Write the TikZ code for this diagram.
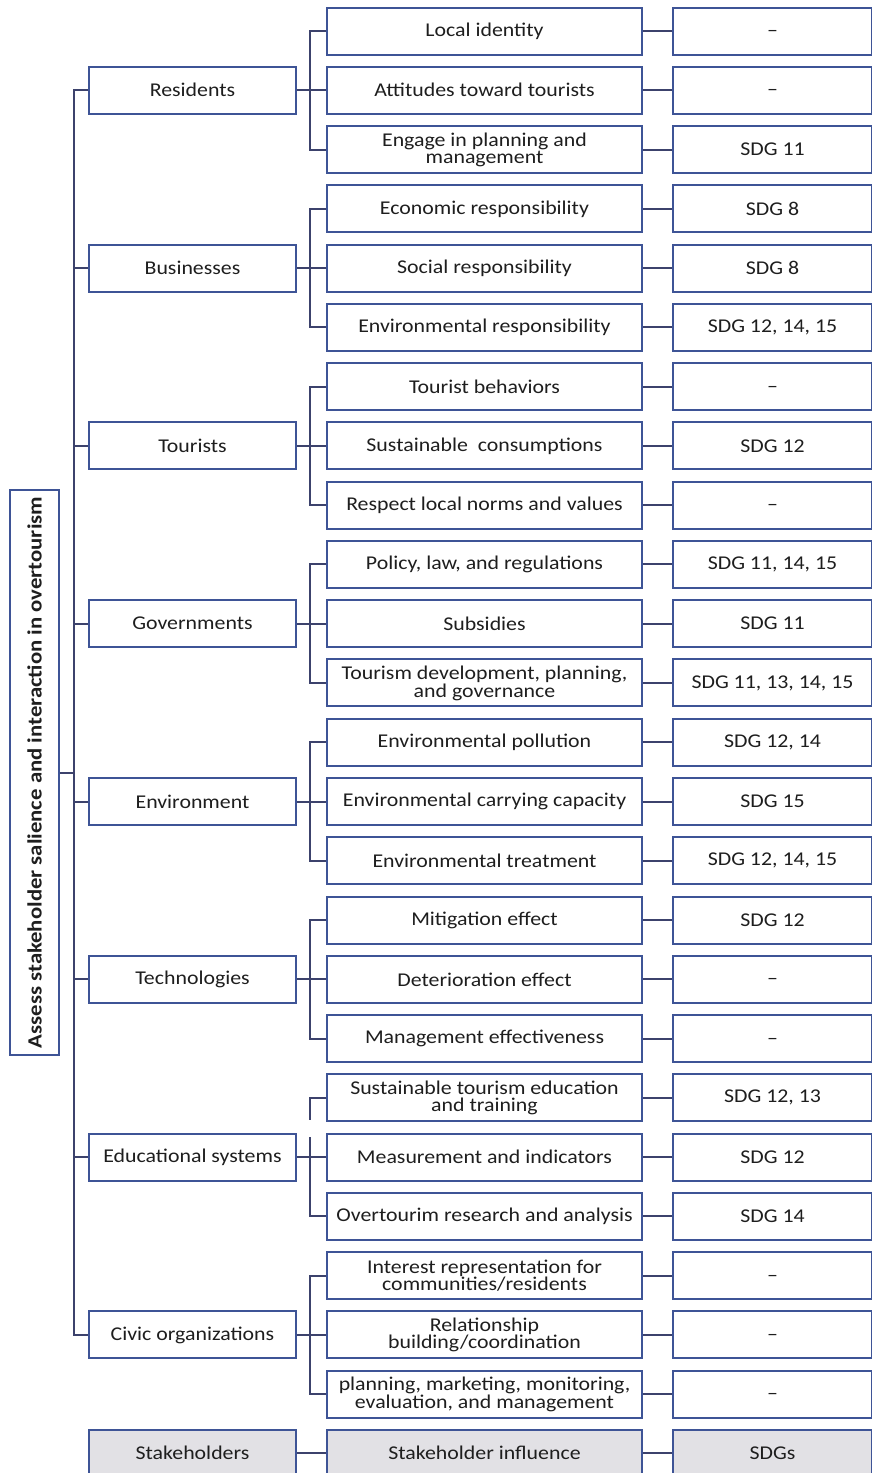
\documentclass[tikz,border=0pt]{standalone}
\usepackage{fontspec}
\setmainfont{Carlito}[FakeStretch=1.12]
\definecolor{boxline}{RGB}{62,84,150}
\definecolor{linkline}{RGB}{60,66,108}
\definecolor{txt}{RGB}{30,30,30}
\definecolor{keyfill}{RGB}{226,225,229}
\tikzset{
  base/.style={draw=boxline, line width=2pt, fill=white, inner sep=0pt,
    align=center, text=txt, minimum height=47pt,
    font=\fontsize{19.5}{16.8}\selectfont},
  holder/.style={base, minimum width=207pt},
  influence/.style={base, minimum width=315pt},
  sdg/.style={base, minimum width=199pt},
  keybox/.style={fill=keyfill},
  link/.style={draw=linkline, line width=2pt},
}
% an en dash centred on the box middle
\newcommand{\nil}{\raisebox{-5.5pt}[0pt][0pt]{--}}
\begin{document}
\begin{tikzpicture}[x=1pt, y=-1pt]
\useasboundingbox (0,0) rectangle (872,1473);
\clip (0,0) rectangle (872,1473);

% row centres
\def\rowy#1{31+#1*59.27}
\def\xg{192.5}
\def\xm{484.5}
\def\xs{772.5}

% root box
\node[base, rotate=90, minimum width=565pt, minimum height=49pt,
  font=\fontsize{20.3}{20}\selectfont\bfseries] (root) at (34.5,772.5)
  {Assess stakeholder salience and interaction in overtourism};

% stakeholder boxes
\node[holder] (g1) at (\xg,{\rowy{1}})  {Residents};
\node[holder] (g2) at (\xg,{\rowy{4}})  {Businesses};
\node[holder] (g3) at (\xg,{\rowy{7}})  {Tourists};
\node[holder] (g4) at (\xg,{\rowy{10}}) {Governments};
\node[holder] (g5) at (\xg,{\rowy{13}}) {Environment};
\node[holder] (g6) at (\xg,{\rowy{16}}) {Technologies};
\node[holder] (g7) at (\xg,{\rowy{19}}) {Educational systems};
\node[holder] (g8) at (\xg,{\rowy{22}}) {Civic organizations};

% influence boxes
\node[influence] (m0)  at (\xm,{\rowy{0}})  {Local identity};
\node[influence] (m1)  at (\xm,{\rowy{1}})  {Attitudes toward tourists};
\node[influence] (m2)  at (\xm,{\rowy{2}})  {Engage in planning and\\management};
\node[influence] (m3)  at (\xm,{\rowy{3}})  {Economic responsibility};
\node[influence] (m4)  at (\xm,{\rowy{4}})  {Social responsibility};
\node[influence] (m5)  at (\xm,{\rowy{5}})  {Environmental responsibility};
\node[influence] (m6)  at (\xm,{\rowy{6}})  {Tourist behaviors};
\node[influence] (m7)  at (\xm,{\rowy{7}})  {Sustainable\ \ consumptions};
\node[influence] (m8)  at (\xm,{\rowy{8}})  {Respect local norms and values};
\node[influence] (m9)  at (\xm,{\rowy{9}})  {Policy, law, and regulations};
\node[influence] (m10) at (\xm,{\rowy{10}}) {Subsidies};
\node[influence] (m11) at (\xm,{\rowy{11}}) {Tourism development, planning,\\and governance};
\node[influence] (m12) at (\xm,{\rowy{12}}) {Environmental pollution};
\node[influence] (m13) at (\xm,{\rowy{13}}) {Environmental carrying capacity};
\node[influence] (m14) at (\xm,{\rowy{14}}) {Environmental treatment};
\node[influence] (m15) at (\xm,{\rowy{15}}) {Mitigation effect};
\node[influence] (m16) at (\xm,{\rowy{16}}) {Deterioration effect};
\node[influence] (m17) at (\xm,{\rowy{17}}) {Management effectiveness};
\node[influence] (m18) at (\xm,{\rowy{18}}) {Sustainable tourism education\\and training};
\node[influence] (m19) at (\xm,{\rowy{19}}) {Measurement and indicators};
\node[influence] (m20) at (\xm,{\rowy{20}}) {Overtourim research and analysis};
\node[influence] (m21) at (\xm,{\rowy{21}}) {Interest representation for\\communities/residents};
\node[influence] (m22) at (\xm,{\rowy{22}}) {Relationship\\building/coordination};
\node[influence] (m23) at (\xm,{\rowy{23}}) {planning, marketing, monitoring,\\evaluation, and management};

% SDG boxes
\node[sdg] (s0)  at (\xs,{\rowy{0}})  {\nil};
\node[sdg] (s1)  at (\xs,{\rowy{1}})  {\nil};
\node[sdg] (s2)  at (\xs,{\rowy{2}})  {SDG 11};
\node[sdg] (s3)  at (\xs,{\rowy{3}})  {SDG 8};
\node[sdg] (s4)  at (\xs,{\rowy{4}})  {SDG 8};
\node[sdg] (s5)  at (\xs,{\rowy{5}})  {SDG 12, 14, 15};
\node[sdg] (s6)  at (\xs,{\rowy{6}})  {\nil};
\node[sdg] (s7)  at (\xs,{\rowy{7}})  {SDG 12};
\node[sdg] (s8)  at (\xs,{\rowy{8}})  {\nil};
\node[sdg] (s9)  at (\xs,{\rowy{9}})  {SDG 11, 14, 15};
\node[sdg] (s10) at (\xs,{\rowy{10}}) {SDG 11};
\node[sdg] (s11) at (\xs,{\rowy{11}}) {SDG 11, 13, 14, 15};
\node[sdg] (s12) at (\xs,{\rowy{12}}) {SDG 12, 14};
\node[sdg] (s13) at (\xs,{\rowy{13}}) {SDG 15};
\node[sdg] (s14) at (\xs,{\rowy{14}}) {SDG 12, 14, 15};
\node[sdg] (s15) at (\xs,{\rowy{15}}) {SDG 12};
\node[sdg] (s16) at (\xs,{\rowy{16}}) {\nil};
\node[sdg] (s17) at (\xs,{\rowy{17}}) {\nil};
\node[sdg] (s18) at (\xs,{\rowy{18}}) {SDG 12, 13};
\node[sdg] (s19) at (\xs,{\rowy{19}}) {SDG 12};
\node[sdg] (s20) at (\xs,{\rowy{20}}) {SDG 14};
\node[sdg] (s21) at (\xs,{\rowy{21}}) {\nil};
\node[sdg] (s22) at (\xs,{\rowy{22}}) {\nil};
\node[sdg] (s23) at (\xs,{\rowy{23}}) {\nil};

% key row
\node[holder, keybox]    (k1) at (\xg,1453) {Stakeholders};
\node[influence, keybox] (k2) at (\xm,1453) {Stakeholder influence};
\node[sdg, keybox]       (k3) at (\xs,1453) {SDGs};

% trunk from the root to the stakeholders
\coordinate (trunk) at (74,0);
\draw[link] (root.south) -- (root.south -| trunk);
\draw[link] (g1.west) -- (g1.west -| trunk) -- (g8.west -| trunk) -- (g8.west);
\foreach \g in {2,...,7} \draw[link] (g\g.west) -- (g\g.west -| trunk);

% stakeholders to their influences
\foreach \g/\a/\b/\c in {1/0/1/2, 2/3/4/5, 3/6/7/8, 4/9/10/11, 5/12/13/14, 6/15/16/17, 8/21/22/23} {
  \draw[link] (g\g.east) -- (m\b.west);
  \draw[link] (m\a.west) -- ++(-16,0) |- (m\c.west);
}
% educational systems: bracket drawn in two pieces
\draw[link] (g7.east) -- (m19.west);
\draw[link] (m18.west) -- ++(-16,0) -- ++(0,22);
\draw[link] (m20.west) -- ++(-16,0) -- ++(0,-79);

% influences to SDGs
\foreach \i in {0,...,23} \draw[link] (m\i.east) -- (s\i.west);
\draw[link] (k1.east) -- (k2.west);
\draw[link] (k2.east) -- (k3.west);
\end{tikzpicture}
\end{document}
